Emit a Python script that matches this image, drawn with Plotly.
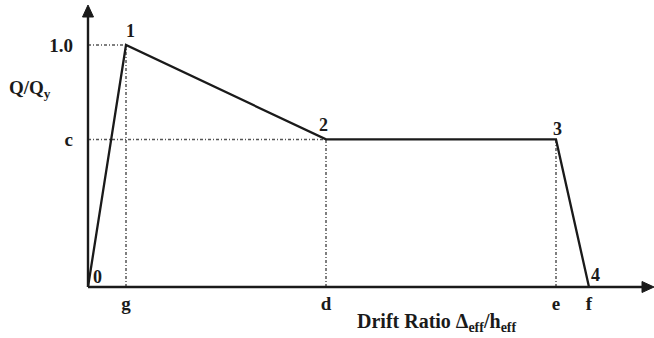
import plotly.graph_objects as go

# ---- data (normalised drift ratio vs normalised strength) ----
drift = [0.0, 0.38, 2.38, 4.68, 5.01]          # points 0,1,2,3,4
strength = [0.0, 1.0, 0.61, 0.61, 0.0]
point_labels = ["0", "1", "2", "3", "4"]
x_tick_vals = [0.38, 2.38, 4.68, 5.01]
x_tick_labels = ["g", "d", "e", "f"]
y_tick_vals = [1.0, 0.61]
y_tick_labels = ["1.0", "c"]

FONT = "Liberation Serif"
INK = "#1a1a1a"
W, H = 654, 338
L, R, T, B = 78, 0, 5, 41
X_MIN, X_MAX = -0.1, 5.66
Y_MIN, Y_MAX = -0.0413, 1.1653
pw, ph = W - L - R, H - T - B
sx = pw / (X_MAX - X_MIN)   # px per x unit
sy = ph / (Y_MAX - Y_MIN)   # px per y unit

fig = go.Figure()

# dotted reference lines
guide = dict(color="#555555", width=1.5, dash="3px,2px,1px,2px")
for xv, yv in [(drift[1], strength[1]), (drift[2], strength[2])]:
    fig.add_trace(go.Scatter(x=[0, xv], y=[yv, yv], mode="lines", line=guide,
                             hoverinfo="skip", showlegend=False))
for xv, yv in zip(drift[1:4], strength[1:4]):
    fig.add_trace(go.Scatter(x=[xv, xv], y=[0, yv], mode="lines", line=guide,
                             hoverinfo="skip", showlegend=False))

# backbone curve
fig.add_trace(go.Scatter(x=drift, y=strength, mode="lines",
                         line=dict(color=INK, width=2.3),
                         hoverinfo="x+y", showlegend=False))

# axes with arrow heads (shapes)
head_len, head_half = 12, 5.5
fig.add_shape(type="line", x0=0, y0=0, x1=X_MAX - head_len / sx, y1=0,
              line=dict(color=INK, width=2.4), layer="above")
fig.add_shape(type="line", x0=0, y0=0, x1=0, y1=Y_MAX - head_len / sy,
              line=dict(color=INK, width=2.4), layer="above")
fig.add_shape(type="path",
              path="M %f,%f L %f,%f L %f,%f Z" % (X_MAX, 0,
                                                  X_MAX - head_len / sx, head_half / sy,
                                                  X_MAX - head_len / sx, -head_half / sy),
              fillcolor=INK, line=dict(color=INK, width=1), layer="above")
fig.add_shape(type="path",
              path="M %f,%f L %f,%f L %f,%f Z" % (0, Y_MAX,
                                                  -head_half / sx, Y_MAX - head_len / sy,
                                                  head_half / sx, Y_MAX - head_len / sy),
              fillcolor=INK, line=dict(color=INK, width=1), layer="above")

# point labels
offsets = [(9, 10), (4, 14), (-3, 14), (1, 10), (6, 12)]
for xv, yv, lab, (dx, dy) in zip(drift, strength, point_labels, offsets):
    fig.add_annotation(x=xv, y=yv, text="<b>%s</b>" % lab, showarrow=False,
                       xshift=dx, yshift=dy, font=dict(family=FONT, size=18, color=INK))

# axis titles (pixel positions converted to paper fractions)
def paper(px, py):
    return (px - L) / pw, (H - B - py) / ph

qx, qy = paper(30, 89)
fig.add_annotation(x=qx, y=qy, xref="paper", yref="paper", text="<b>Q/Q<sub>y</sub></b>",
                   showarrow=False, xanchor="center", yanchor="middle",
                   font=dict(family=FONT, size=19, color=INK))
dx_, dy_ = paper(437, 322)
fig.add_annotation(x=dx_, y=dy_, xref="paper", yref="paper",
                   text="<b>Drift Ratio Δ<sub>eff</sub>/h<sub>eff</sub></b>",
                   showarrow=False, xanchor="center", yanchor="middle",
                   font=dict(family=FONT, size=20, color=INK))

fig.update_layout(
    width=W, height=H,
    margin=dict(l=L, r=R, t=T, b=B, pad=0),
    paper_bgcolor="white", plot_bgcolor="white",
    xaxis=dict(range=[X_MIN, X_MAX], showgrid=False, zeroline=False, showline=False,
               tickvals=x_tick_vals, ticktext=["<b>%s</b>" % t for t in x_tick_labels],
               ticks="", tickfont=dict(family=FONT, size=19, color=INK),
               ticklabelstandoff=-7, fixedrange=True, automargin=False),
    yaxis=dict(range=[Y_MIN, Y_MAX], showgrid=False, zeroline=False, showline=False,
               tickvals=y_tick_vals, ticktext=["<b>%s</b>" % t for t in y_tick_labels],
               ticks="", tickfont=dict(family=FONT, size=19, color=INK),
               ticklabelstandoff=4, fixedrange=True, automargin=False),
)

fig.write_html("out.html", config={"displayModeBar": False},
               post_script="document.body.style.margin='0';document.body.style.overflow='hidden';")
